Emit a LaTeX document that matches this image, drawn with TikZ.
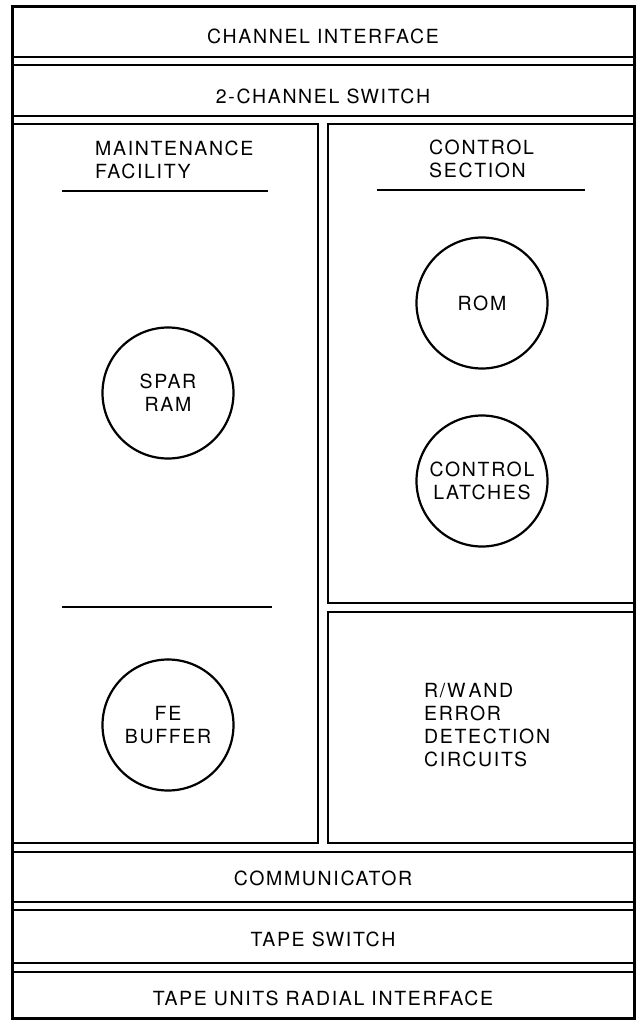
\documentclass[tikz,border=0pt]{standalone}
\usepackage{fontspec}
\setmainfont{TeX Gyre Heros}[LetterSpace=8.5]
\begin{document}
\begin{tikzpicture}[x=1pt,y=-1pt,
  band/.style={draw, line width=2.2pt, inner sep=0pt, outer sep=0pt},
  lbl/.style={inner sep=0pt, font=\fontsize{19.5}{23}\selectfont},
  unit/.style={draw, circle, line width=2.2pt, minimum size=131pt, inner sep=0pt, align=center, font=\fontsize{19.5}{23}\selectfont},
  rule/.style={line width=2.2pt}]
\useasboundingbox (0,0) rectangle (639,1020);
\fill[white] (0,0) rectangle (639,1020);
% bands
\node[band, minimum width=622pt, minimum height=51pt] (ci) at (323,31.5) {};
\node[band, minimum width=622pt, minimum height=51pt] (sw) at (323,90.5) {};
\node[band, minimum width=306pt, minimum height=719pt] (mf) at (165,483.5) {};
\node[band, minimum width=306pt, minimum height=479pt] (cs) at (481,363.5) {};
\node[band, minimum width=306pt, minimum height=231pt] (rw) at (481,727.5) {};
\node[band, minimum width=622pt, minimum height=50pt] (com) at (323,877) {};
\node[band, minimum width=622pt, minimum height=53pt] (ts) at (323,936.5) {};
\node[band, minimum width=622pt, minimum height=46pt] (tu) at (323,995) {};
% outer frame
\draw[line width=3pt] (12,6) rectangle (634,1018);
% band labels
\node[lbl, anchor=base] (cit) at (323,43) {CHANNEL INTERFACE};
\node[lbl, anchor=base] (swt) at (323,103) {2-CHANNEL SWITCH};
\node[lbl, anchor=base] (comt) at (323,885) {COMMUNICATOR};
\node[lbl, anchor=base] (tst) at (323,946) {TAPE SWITCH};
\node[lbl, anchor=base] (tut) at (323,1005) {TAPE UNITS RADIAL INTERFACE};
% section headings
\node[lbl, anchor=north west, align=left] (mft) at (95,141) {MAINTENANCE\\FACILITY};
\node[lbl, anchor=north west, align=left] (cst) at (429,140) {CONTROL\\SECTION};
\node[lbl, anchor=north west, align=left] (rwt) at (424,683) {R/W\,AND\\ERROR\\DETECTION\\CIRCUITS};
\draw[rule] (62,191) -- (268,191);
\draw[rule] (377,190) -- (585,190);
\draw[rule] (62,607) -- (272,607);
% circles
\node[unit] (spar) at (168,393) {SPAR\\RAM};
\node[unit] (fe) at (168,725) {FE\\BUFFER};
\node[unit] (rom) at (482,303) {ROM};
\node[unit] (cl) at (482,481) {CONTROL\\LATCHES};
\end{tikzpicture}
\end{document}
